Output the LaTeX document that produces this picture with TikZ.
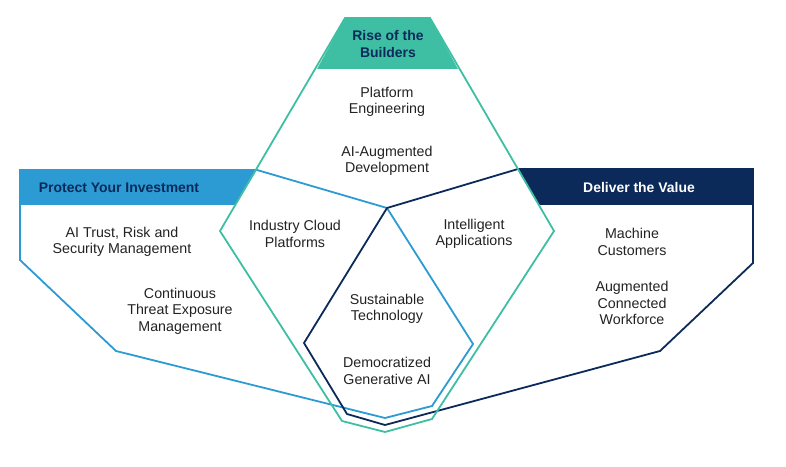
\documentclass[tikz,border=0pt]{standalone}
\usepackage{fontspec}
\setmainfont{Liberation Sans}
\definecolor{tealc}{HTML}{3EBFA4}
\definecolor{bluec}{HTML}{2C9AD3}
\definecolor{navyc}{HTML}{0B2A5A}
\definecolor{textc}{HTML}{222222}
\begin{document}
\begin{tikzpicture}[x=1bp,y=-1bp,
  outline/.style={line width=1.8bp,line join=miter},
  lbl/.style={align=center,font=\fontsize{14.3}{16.6}\selectfont,text=textc,inner sep=0pt},
  hdr/.style={align=center,font=\bfseries\fontsize{14}{16.8}\selectfont,inner sep=0pt}]
\useasboundingbox (0,0) rectangle (786,467);
% header fills
\fill[tealc] (345,18) -- (430,18) -- (458,69) -- (317,69) -- cycle;
\fill[bluec] (20,170) -- (256.5,170) -- (235.6,205) -- (20,205) -- cycle;
\fill[navyc] (517.3,169) -- (753,169) -- (753,205) -- (538.6,205) -- cycle;
% outlines
\draw[outline,bluec] (20,170) -- (257,170) -- (387,208) -- (473,344) -- (432,406) -- (385,418) -- (116,351) -- (20,260) -- cycle;
\draw[outline,navyc] (518,169) -- (753,169) -- (753,263) -- (660,351) -- (385,425) -- (347,414) -- (304,343) -- (387,208) -- cycle;
\draw[outline,tealc] (345,18) -- (430,18) -- (554,231) -- (432,419) -- (385,432) -- (342,421) -- (220,231) -- cycle;
% headers
\node[hdr,text=navyc] (rise) at (388,44) {Rise of the\\Builders};
\node[hdr,text=navyc] (protect) at (119,188) {Protect Your Investment};
\node[hdr,text=white] (deliver) at (639,188) {Deliver the Value};
% labels
\node[lbl] (pe) at (387,102) {Platform\\Engineering};
\node[lbl] (aad) at (387,161) {AI-Augmented\\Development};
\node[lbl] (trust) at (122,242) {AI Trust, Risk and\\Security Management};
\node[lbl] (ctem) at (180,311) {Continuous\\Threat Exposure\\Management};
\node[lbl] (icp) at (295,234) {Industry Cloud\\Platforms};
\node[lbl] (ia) at (474,234) {Intelligent\\Applications};
\node[lbl] (st) at (387,309) {Sustainable\\Technology};
\node[lbl] (dga) at (387,371) {Democratized\\Generative AI};
\node[lbl] (mc) at (632,242) {Machine\\Customers};
\node[lbl] (acw) at (632,303) {Augmented\\Connected\\Workforce};
\end{tikzpicture}
\end{document}
